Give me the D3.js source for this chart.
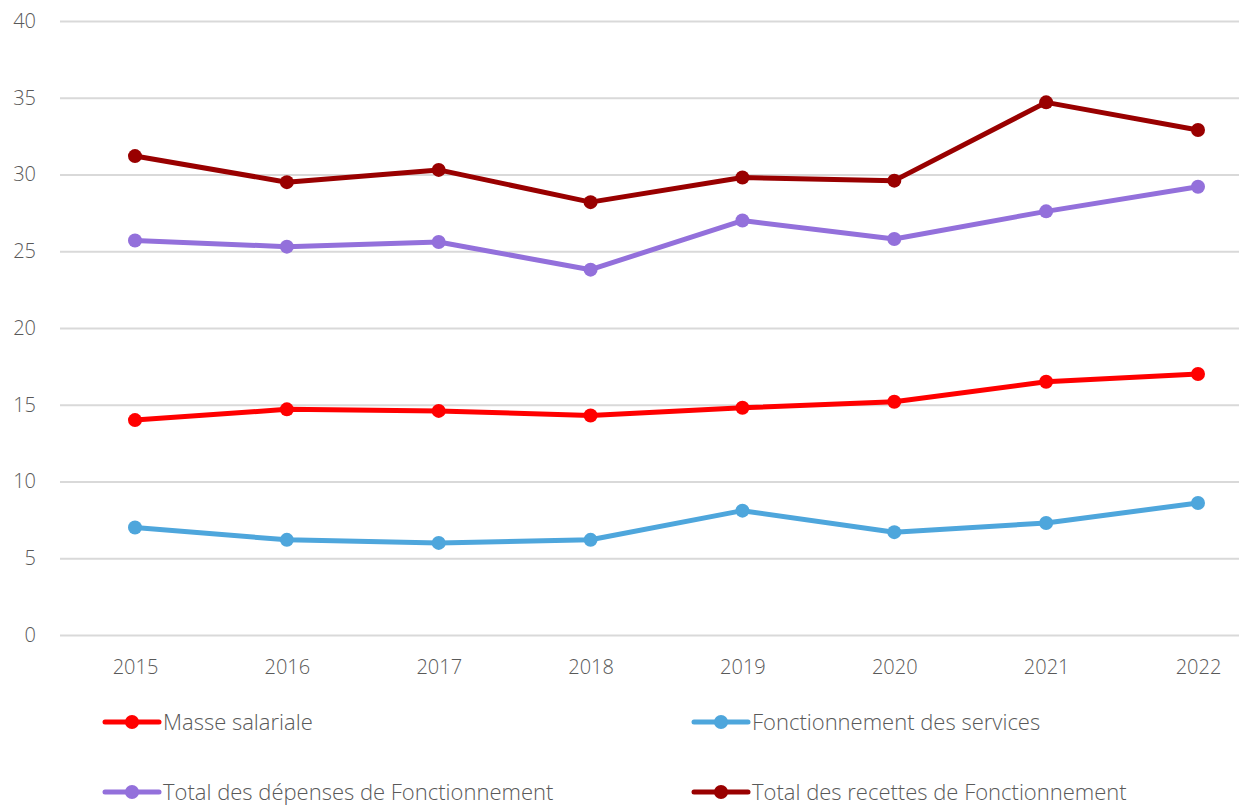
<!DOCTYPE html>
<html lang="fr">
<head>
<meta charset="UTF-8">
<title>Fonctionnement</title>
<style>
  body { margin: 0; background: #fff; font-family: "Segoe UI", "Open Sans", sans-serif; }
  #chart svg { display: block; }
  .tick text { fill: #595959; font-size: 20px; font-weight: 300; }
  .legend text { fill: #595959; font-size: 22px; font-weight: 300; }
</style>
</head>
<body>
<div id="chart"></div>
<script src="https://d3js.org/d3.v7.min.js"></script>
<script>
// Data
const years = [2015, 2016, 2017, 2018, 2019, 2020, 2021, 2022];
const masseSalariale = [14.0, 14.7, 14.6, 14.3, 14.8, 15.2, 16.5, 17.0];
const fonctionnementServices = [7.0, 6.2, 6.0, 6.2, 8.1, 6.7, 7.3, 8.6];
const totalDepenses = [25.7, 25.3, 25.6, 23.8, 27.0, 25.8, 27.6, 29.2];
const totalRecettes = [31.2, 29.5, 30.3, 28.2, 29.8, 29.6, 34.7, 32.9];
const yTicks = [0, 5, 10, 15, 20, 25, 30, 35, 40];

const series = [
    { name: "Masse salariale", values: masseSalariale, color: "#ff0000" },
    { name: "Fonctionnement des services", values: fonctionnementServices, color: "#4ea6dc" },
    { name: "Total des dépenses de Fonctionnement", values: totalDepenses, color: "#9370db" },
    { name: "Total des recettes de Fonctionnement", values: totalRecettes, color: "#990000" }
];

const W = 1239, H = 805;
const plot = { left: 60, right: 1239, top: 21, bottom: 635 };
const font = '"Segoe UI", "Open Sans", sans-serif';

const svg = d3.select("#chart").append("svg")
    .attr("width", W)
    .attr("height", H);

// Scales
const x = d3.scalePoint().domain(years).range([135, 1198]);
const y = d3.scaleLinear().domain([0, 40]).range([plot.bottom, plot.top]);

// Gridlines + y labels
const yAxis = svg.append("g")
    .attr("transform", `translate(${plot.left},0)`)
    .call(d3.axisLeft(y).tickValues(yTicks).tickSize(-(plot.right - plot.left)).tickPadding(24));
yAxis.attr("font-family", font);
yAxis.select(".domain").remove();
yAxis.selectAll(".tick line").attr("stroke", "#d9d9d9").attr("stroke-width", 2);

// x labels
const xAxis = svg.append("g")
    .attr("transform", `translate(0,${plot.bottom})`)
    .call(d3.axisBottom(x).tickSize(0).tickPadding(25));
xAxis.attr("font-family", font);
xAxis.select(".domain").remove();

// Lines
const line = d3.line()
    .x((d, i) => x(years[i]))
    .y(d => y(d));

series.forEach(s => {
    svg.append("path")
        .datum(s.values)
        .attr("fill", "none")
        .attr("stroke", s.color)
        .attr("stroke-width", 5)
        .attr("stroke-linejoin", "round")
        .attr("d", line);
    svg.selectAll(null)
        .data(s.values)
        .enter()
        .append("circle")
        .attr("cx", (d, i) => x(years[i]))
        .attr("cy", d => y(d))
        .attr("r", 7)
        .attr("fill", s.color);
});

// Legend
const legendPos = [[103, 722], [692, 722], [103, 792], [692, 792]];
const legend = svg.append("g").attr("class", "legend");
series.forEach((s, i) => {
    const [lx, ly] = legendPos[i];
    const g = legend.append("g").attr("transform", `translate(${lx},${ly})`);
    g.append("line")
        .attr("x1", 2).attr("x2", 56)
        .attr("stroke", s.color)
        .attr("stroke-width", 5)
        .attr("stroke-linecap", "round");
    g.append("circle").attr("cx", 29).attr("r", 7).attr("fill", s.color);
    g.append("text")
        .attr("x", 60)
        .attr("dy", "0.35em")
        .text(s.name);
});
</script>
</body>
</html>
